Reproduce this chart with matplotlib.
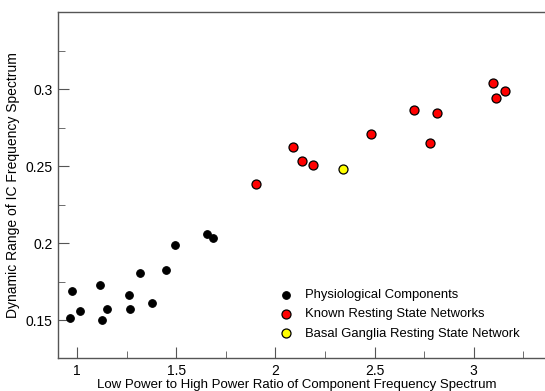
import matplotlib
matplotlib.use("Agg")
import matplotlib.pyplot as plt
from matplotlib.ticker import MultipleLocator

plt.rcParams["font.family"] = ["Liberation Sans", "DejaVu Sans"]

# ── data ─────────────────────────────────────────────────────────────────────
phys_x = [0.963, 0.973, 1.013, 1.114, 1.126, 1.148, 1.262, 1.266, 1.316,
          1.375, 1.449, 1.492, 1.654, 1.686]
phys_y = [0.1513, 0.1692, 0.1560, 0.1729, 0.1500, 0.1571, 0.1666, 0.1576,
          0.1809, 0.1610, 0.1824, 0.1986, 0.2061, 0.2033]

rsn_x = [1.904, 2.086, 2.136, 2.190, 2.482, 2.701, 2.778, 2.817, 3.097,
         3.111, 3.158]
rsn_y = [0.2385, 0.2627, 0.2532, 0.2510, 0.2711, 0.2862, 0.2653, 0.2843,
         0.3037, 0.2942, 0.2985]

bg_x = [2.341]
bg_y = [0.2480]

labels = ["Physiological Components",
          "Known Resting State Networks",
          "Basal Ganglia Resting State Network"]

# ── figure ───────────────────────────────────────────────────────────────────
W, H = 545, 391
fig = plt.figure(figsize=(W / 100, H / 100), dpi=100)
ax = fig.add_axes([58 / W, 33 / H, 495 / W, 346 / H])

ax.scatter(phys_x, phys_y, s=30, color="black", edgecolors="black",
           linewidths=0.8, zorder=3, label=labels[0])
ax.scatter(rsn_x, rsn_y, s=42, color="#ff0000", edgecolors="black",
           linewidths=0.9, zorder=3, label=labels[1])
ax.scatter(bg_x, bg_y, s=42, color="#ffff00", edgecolors="black",
           linewidths=0.9, zorder=3, label=labels[2])

ax.set_xlim(0.903, 3.4)
ax.set_ylim(0.1255, 0.35)

ax.xaxis.set_minor_locator(MultipleLocator(0.25))
ax.yaxis.set_minor_locator(MultipleLocator(0.025))
ax.set_yticks([0.15, 0.2, 0.25, 0.3])
ax.set_yticklabels(["0.15", "0.2", "0.25", "0.3"])
ax.set_xticks([1, 1.5, 2, 2.5, 3])
ax.set_xticklabels(["1", "1.5", "2", "2.5", "3"])

spine_c = "#555555"
for s in ax.spines.values():
    s.set_color(spine_c)
    s.set_linewidth(1.0)
ax.tick_params(which="both", direction="in", color=spine_c, labelsize=10,
               top=False, right=False)
ax.tick_params(which="major", length=8, pad=4)
ax.tick_params(which="minor", length=5)

ax.set_xlabel("Low Power to High Power Ratio of Component Frequency Spectrum",
              fontsize=9.5, labelpad=1)
ax.xaxis.label.set_x(0.483)   # label sits a bit left of the axes centre
ax.set_ylabel("Dynamic Range of IC Frequency Spectrum", fontsize=10,
              labelpad=4)

ax.legend(loc="upper left", bbox_to_anchor=(279 / W, 1 - 289 / H),
          bbox_transform=fig.transFigure, frameon=False, fontsize=9.4,
          handlelength=1.0, handletextpad=1.0, labelspacing=0.55,
          borderpad=0, borderaxespad=0, scatterpoints=1)

fig.savefig("out.png", dpi=100)
